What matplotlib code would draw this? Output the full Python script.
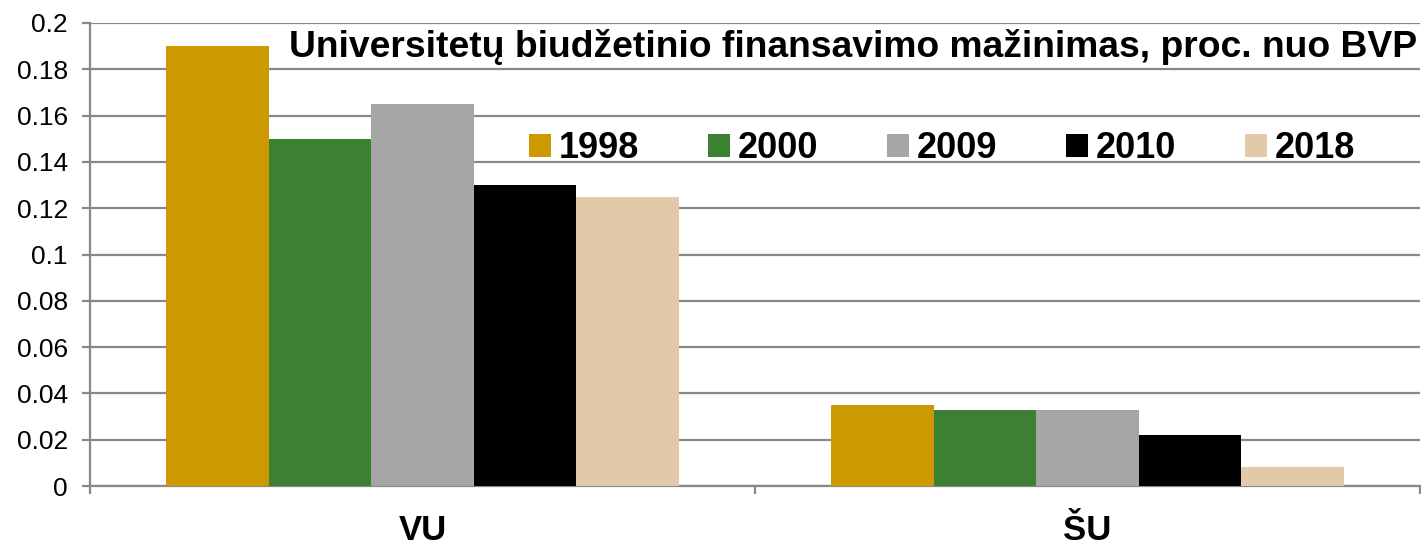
import matplotlib
matplotlib.use("Agg")
import matplotlib.pyplot as plt
import numpy as np
from matplotlib.patches import Patch

plt.rcParams['font.family'] = ['Liberation Sans', 'DejaVu Sans']

categories = ["VU", "ŠU"]
years = ["1998", "2000", "2009", "2010", "2018"]
values = {
    "1998": [0.19, 0.035],
    "2000": [0.15, 0.033],
    "2009": [0.165, 0.033],
    "2010": [0.13, 0.022],
    "2018": [0.125, 0.008],
}
colors = ["#CC9900", "#3C8031", "#A6A6A6", "#000000", "#E2C9A9"]
yticks = [0, 0.02, 0.04, 0.06, 0.08, 0.1, 0.12, 0.14, 0.16, 0.18, 0.2]
ytick_labels = ["0", "0.02", "0.04", "0.06", "0.08", "0.1", "0.12", "0.14", "0.16", "0.18", "0.2"]
title = "Universitetų biudžetinio finansavimo mažinimas, proc. nuo BVP"

W, H = 1421, 547
fig = plt.figure(figsize=(W / 100, H / 100), dpi=100)
ax = fig.add_axes([90 / W, 61 / H, 1330 / W, 463 / H])

grid_c = "#888888"
x = np.arange(len(categories))
bw = 0.154
n = len(years)
for i, (yr, c) in enumerate(zip(years, colors)):
    ax.bar(x + (i - (n - 1) / 2) * bw, values[yr], width=bw, color=c, zorder=3, label=yr)

ax.set_xlim(-0.5, 1.5)
ax.set_ylim(0, 0.2)
ax.set_yticks(yticks)
ax.set_yticklabels(ytick_labels, fontsize=19)
ax.yaxis.grid(True, color=grid_c, linewidth=1.6, zorder=0)
ax.set_axisbelow(True)
ax.tick_params(axis='y', length=6, width=1.6, color=grid_c, pad=10)

ax.set_xticks(x)
ax.set_xticklabels(categories, fontsize=25, fontweight='bold')
ax.set_xticks([-0.5, 0.5, 1.5], minor=True)
ax.tick_params(axis='x', which='major', length=0, pad=20)
ax.tick_params(axis='x', which='minor', length=6, width=1.6, color=grid_c)

for s in ["top", "right"]:
    ax.spines[s].set_visible(False)
for s in ["left", "bottom"]:
    ax.spines[s].set_color(grid_c)
    ax.spines[s].set_linewidth(1.6)

ax.text(0.998, 0.948, title, transform=ax.transAxes, ha='right', va='center',
        fontsize=26.8, fontweight='bold', zorder=5)

handles = [Patch(facecolor=c, edgecolor='none') for c in colors]
leg = ax.legend(handles, years, loc='center left', bbox_to_anchor=(0.330, 0.728),
                ncol=5, frameon=False, prop={'size': 26, 'weight': 'bold'},
                handlelength=0.61, handleheight=0.6, handletextpad=0.22,
                columnspacing=1.9, borderpad=0, borderaxespad=0)

fig.savefig("out.png", dpi=100)
